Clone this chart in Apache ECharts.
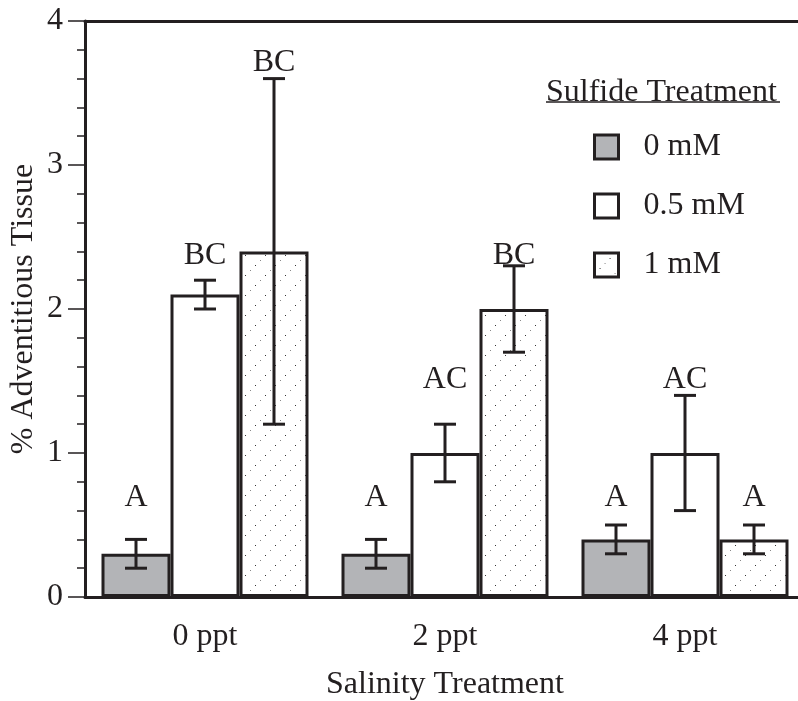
<!DOCTYPE html>
<html>
<head>
<meta charset="utf-8">
<script src="https://cdn.jsdelivr.net/npm/echarts@6/dist/echarts.min.js"></script>
<style>
  html, body { margin: 0; padding: 0; background: #fff; }
  #chart { width: 798px; height: 701px; }
</style>
</head>
<body>
<div id="chart"></div>
<script>
const categories = ['0 ppt', '2 ppt', '4 ppt']
const seriesNames = ['0 mM', '0.5 mM', '1 mM']

// means and error (+/-) for each sulfide level
const mean0 = [0.3, 0.3, 0.4]
const mean05 = [2.1, 1.0, 1.0]
const mean1 = [2.4, 2.0, 0.4]
const err0 = [0.1, 0.1, 0.1]
const err05 = [0.1, 0.2, 0.4]
const err1 = [1.2, 0.3, 0.1]

// significance letters and the height (in axis units) where they sit
const letters0 = ['A', 'A', 'A']
const letters05 = ['BC', 'AC', 'AC']
const letters1 = ['BC', 'BC', 'A']
const letterY0 = [0.69, 0.69, 0.69]
const letterY05 = [2.37, 1.51, 1.51]
const letterY1 = [3.71, 2.37, 0.69]

const yTicks = [0, 1, 2, 3, 4]

const ink = '#231f20'
const font = '"Liberation Serif", "Times New Roman", serif'
const catGap = 0.1375

// sparse dot fill for the 1 mM bars
function dotPattern() {
  const c = document.createElement('canvas')
  c.width = 20
  c.height = 20
  const ctx = c.getContext('2d')
  ctx.fillStyle = '#fff'
  ctx.fillRect(0, 0, 20, 20)
  const dots = [[0, 0, '#888'], [15, 5, '#333'], [10, 10, '#888'], [5, 15, '#333']]
  dots.forEach(d => {
    ctx.fillStyle = d[2]
    ctx.fillRect(d[0], d[1], 1, 1)
  })
  return { image: c, repeat: 'repeat' }
}

const fills = ['#b3b4b7', '#ffffff', dotPattern()]
const means = [mean0, mean05, mean1]
const errs = [err0, err05, err1]
const letters = [letters0, letters05, letters1]
const letterYs = [letterY0, letterY05, letterY1]

function errRender(k) {
  return function (params, api) {
    const band = api.size([1, 0])[0]
    const bw = band * (1 - catGap) / 3
    const off = (k - 1) * bw
    const lo = api.coord([api.value(0), api.value(1)])
    const hi = api.coord([api.value(0), api.value(2)])
    const x = lo[0] + off
    const cap = 11
    const st = { stroke: ink, lineWidth: 3 }
    return {
      type: 'group',
      children: [
        { type: 'line', shape: { x1: x, y1: lo[1], x2: x, y2: hi[1] }, style: st },
        { type: 'line', shape: { x1: x - cap, y1: lo[1], x2: x + cap, y2: lo[1] }, style: st },
        { type: 'line', shape: { x1: x - cap, y1: hi[1], x2: x + cap, y2: hi[1] }, style: st }
      ]
    }
  }
}

function letterRender(k) {
  return function (params, api) {
    const band = api.size([1, 0])[0]
    const bw = band * (1 - catGap) / 3
    const p = api.coord([api.value(0), api.value(1)])
    return {
      type: 'text',
      x: p[0] + (k - 1) * bw,
      y: p[1],
      style: {
        text: letters[k][params.dataIndex],
        font: '32px ' + font,
        fill: ink,
        align: 'center',
        verticalAlign: 'middle'
      }
    }
  }
}

const series = []
seriesNames.forEach((name, k) => {
  series.push({
    name: name,
    type: 'bar',
    data: means[k],
    barGap: '0%',
    barCategoryGap: (catGap * 100) + '%',
    itemStyle: { color: fills[k], borderColor: ink, borderWidth: 3 },
    z: 2
  })
})
seriesNames.forEach((name, k) => {
  series.push({
    type: 'custom',
    renderItem: errRender(k),
    data: means[k].map((m, i) => [i, m - errs[k][i], m + errs[k][i]]),
    z: 5,
    silent: true
  })
  series.push({
    type: 'custom',
    renderItem: letterRender(k),
    data: letterYs[k].map((v, i) => [i, v]),
    z: 6,
    silent: true
  })
})

const chart = echarts.init(document.getElementById('chart'))
chart.setOption({
  animation: false,
  backgroundColor: '#fff',
  grid: { left: 85, top: 21, width: 720, height: 576, outerBoundsMode: 'none' },
  legend: {
    data: seriesNames,
    orient: 'vertical',
    left: 593,
    top: 131,
    padding: 0,
    icon: 'rect',
    itemWidth: 24,
    itemHeight: 24,
    itemGap: 27,
    itemStyle: { borderColor: ink, borderWidth: 3 },
    textStyle: { fontFamily: font, fontSize: 32, color: ink, lineHeight: 32, padding: [0, 0, 0, 20] }
  },
  graphic: [
    { type: 'text', left: 546, top: 77, style: { text: 'Sulfide Treatment', font: '32px ' + font, fill: ink } },
    { type: 'line', shape: { x1: 546, y1: 102, x2: 780, y2: 102 }, style: { stroke: ink, lineWidth: 1.5 } }
  ],
  xAxis: [
    {
      type: 'category',
      data: categories,
      position: 'bottom',
      name: 'Salinity Treatment',
      nameLocation: 'middle',
      nameGap: 72,
      nameTextStyle: { fontFamily: font, fontSize: 32, color: ink },
      axisLine: { lineStyle: { color: ink, width: 3 } },
      axisTick: { length: 15, lineStyle: { color: ink, width: 1.5 } },
      axisLabel: { fontFamily: font, fontSize: 32, color: ink, margin: 24 }
    },
    {
      type: 'category',
      data: categories,
      position: 'top',
      axisLine: { lineStyle: { color: ink, width: 3 } },
      axisTick: { show: false },
      axisLabel: { show: false }
    }
  ],
  yAxis: {
    type: 'value',
    min: yTicks[0],
    max: yTicks[yTicks.length - 1],
    interval: 1,
    name: '% Adventitious Tissue',
    nameLocation: 'middle',
    nameGap: 45,
    nameMoveOverlap: false,
    nameTextStyle: { fontFamily: font, fontSize: 32, color: ink },
    axisLine: { show: true, lineStyle: { color: ink, width: 3 } },
    axisTick: { show: true, length: 17, lineStyle: { color: ink, width: 1.5 } },
    minorTick: { show: true, splitNumber: 5, length: 8, lineStyle: { color: ink, width: 1.5 } },
    splitLine: { show: false },
    axisLabel: { fontFamily: font, fontSize: 32, color: ink, margin: 22 }
  },
  series: series
})
</script>
</body>
</html>
